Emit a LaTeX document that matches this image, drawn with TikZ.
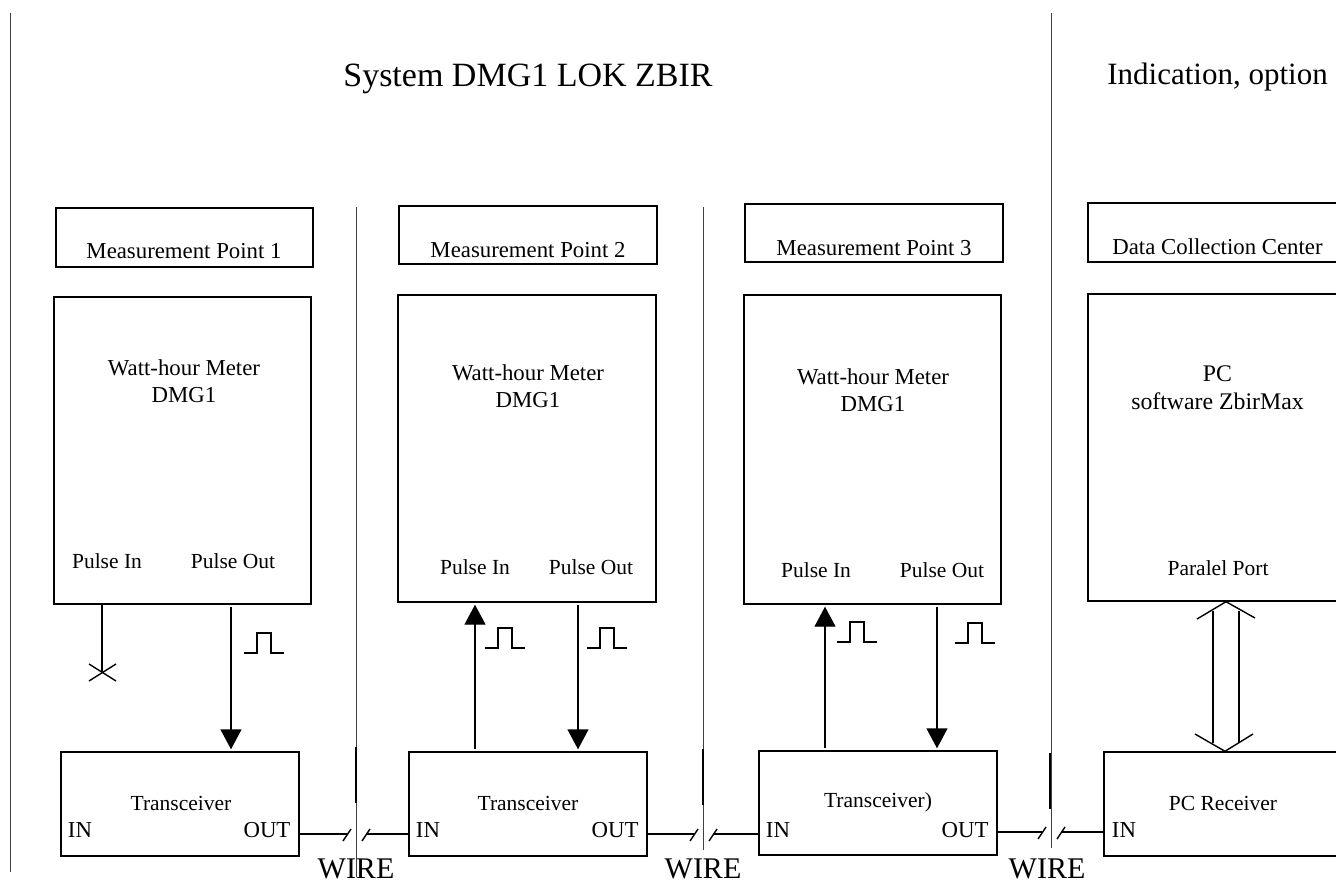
\documentclass[tikz,border=0pt]{standalone}
\usepackage{fontspec}
\setmainfont{Liberation Serif}
\usetikzlibrary{arrows.meta,calc}

\tikzset{
    box/.style={draw, line width=1.4pt, inner sep=0pt},
    lbl/.style={inner sep=0pt, font=\fontsize{21.5}{25}\selectfont, align=center},
    wide/.style={inner sep=0pt, font=\fontsize{22.8}{27.5}\selectfont, align=center},
    head/.style={inner sep=0pt, anchor=base},
    wirelbl/.style={inner sep=0pt, anchor=base, font=\fontsize{30}{32}\selectfont},
    line/.style={line width=1.4pt},
    sig/.style={line width=1.4pt, -{Triangle[length=20pt,width=21pt]}, shorten >=2pt, shorten <=2pt},
    divider/.style={line width=0.7pt, black!75},
    dividerb/.style={line width=1.4pt}
}

\begin{document}
\begin{tikzpicture}[x=1pt,y=-1pt]
    \useasboundingbox (0,0) rectangle (1336,882);
    \clip (0,0) rectangle (1336,882);
    \fill[white] (0,0) rectangle (1336,882);

    % Dividers
    \draw[divider] (10,13) -- (10,872);
    \draw[divider] (356,207) -- (356,877);
    \draw[divider] (703,207) -- (703,850);
    \draw[divider] (1051,13) -- (1051,848);
    \foreach \x/\y in {356/747,703/749,1050/753} {
        \draw[dividerb] (\x,\y) -- (\x,\y+56);
    }

    % Headings
    \node[head, font=\fontsize{34}{36}\selectfont] (sys) at (528,87) {System DMG1 LOK ZBIR};
    \node[head, font=\fontsize{31}{34}\selectfont] (ind) at (1217.5,85) {Indication, option};

    % Name boxes
    \node[box, minimum width=257, minimum height=59] (p1) at (184.5,237.5) {};
    \node[box, minimum width=258, minimum height=58] (p2) at (528,235) {};
    \node[box, minimum width=258, minimum height=58] (p3) at (874,233) {};
    \node[box, minimum width=280, minimum height=59] (p4) at (1228,232.5) {};
    \node[wide] (p1t) at (184,251) {Measurement Point 1};
    \node[wide] (p2t) at (528,250) {Measurement Point 2};
    \node[wide] (p3t) at (874,248) {Measurement Point 3};
    \node[wide] (p4t) at (1217.5,247) {Data Collection Center};

    % Meters
    \node[box, minimum width=257, minimum height=307] (m1) at (182.5,450.5) {};
    \node[box, minimum width=258, minimum height=307] (m2) at (527,448.5) {};
    \node[box, minimum width=257, minimum height=309] (m3) at (872.5,449.5) {};
    \node[box, minimum width=280, minimum height=307] (m4) at (1228,447.5) {};
    \node[wide] (m1t) at (184,381) {Watt-hour Meter\\DMG1};
    \node[wide] (m2t) at (528,386) {Watt-hour Meter\\DMG1};
    \node[wide] (m3t) at (873,390) {Watt-hour Meter\\DMG1};
    \node[inner sep=0pt, font=\fontsize{23.8}{28}\selectfont, align=center] (m4t) at (1217.5,388) {PC\\software ZbirMax};
    \node[lbl] (i1) at (107,561) {Pulse In};
    \node[lbl] (o1) at (233,561) {Pulse Out};
    \node[lbl] (i2) at (475,567) {Pulse In};
    \node[lbl] (o2) at (591,567) {Pulse Out};
    \node[lbl] (i3) at (816,570) {Pulse In};
    \node[lbl] (o3) at (942,570) {Pulse Out};
    \node[lbl] (pp) at (1218,568) {Paralel Port};

    % Transceivers
    \node[box, minimum width=238, minimum height=104] (t1) at (180,804) {};
    \node[box, minimum width=238, minimum height=104] (t2) at (528,804) {};
    \node[box, minimum width=238, minimum height=104] (t3) at (878,803) {};
    \node[box, minimum width=260, minimum height=104] (t4) at (1234,804) {};
    \node[lbl] (t1t) at (181,803) {Transceiver};
    \node[lbl] (t2t) at (528,803) {Transceiver};
    \node[lbl] (t3t) at (878,802) {Transceiver)};
    \node[lbl] (t4t) at (1223,803) {PC Receiver};
    \node[wide] (in1) at (80,830) {IN};
    \node[wide] (out1) at (267,830) {OUT};
    \node[wide] (in2) at (428,830) {IN};
    \node[wide] (out2) at (615,830) {OUT};
    \node[wide] (in3) at (778,830) {IN};
    \node[wide] (out3) at (965,830) {OUT};
    \node[wide] (in4) at (1124,830) {IN};

    % Pulse signals
    \coordinate (s1) at (231,0);
    \coordinate (r2) at (475,0);
    \coordinate (s2) at (578,0);
    \coordinate (r3) at (825,0);
    \coordinate (s3) at (937,0);
    \draw[sig] (m1.south -| s1) -- (t1.north -| s1);
    \draw[sig] (t2.north -| r2) -- (m2.south -| r2);
    \draw[sig] (m2.south -| s2) -- (t2.north -| s2);
    \draw[sig] (t3.north -| r3) -- (m3.south -| r3);
    \draw[sig] (m3.south -| s3) -- (t3.north -| s3);
    \foreach \x/\y in {244/653,485/648,587/648,837/642,955/643} {
        \draw[line] (\x,\y) -- ++(13,0) -- ++(0,-20) -- ++(14,0) -- ++(0,20) -- ++(13,0);
    }

    % Unused input
    \coordinate (x1) at (102,672);
    \draw[line] (m1.south -| x1) -- (x1);
    \draw[line] ($(x1)+(-13,-8)$) -- ($(x1)+(14,9)$);
    \draw[line] ($(x1)+(-13,9)$) -- ($(x1)+(14,-8)$);

    % Wires
    \coordinate (w1) at (356,834);
    \coordinate (w2) at (703,834);
    \coordinate (w3) at (1051,832);
    \foreach \w/\a/\b in {w1/t1/t2,w2/t2/t3,w3/t3/t4} {
        \draw[line] (\a.east |- \w) -- ($(\w)+(-9,0)$);
        \draw[line] ($(\w)+(10,0)$) -- (\b.west |- \w);
        \draw[line] ($(\w)+(-13,7)$) -- ++(8,-12);
        \draw[line] ($(\w)+(6,7)$) -- ++(8,-12);
    }
    \node[wirelbl] (l1) at (356,878) {WIRE};
    \node[wirelbl] (l2) at (703,878) {WIRE};
    \node[wirelbl] (l3) at (1047,878) {WIRE};

    % Parallel link
    \draw[line] (m4.south -| 1213,0) ++(0,9) -- (1213,743);
    \draw[line] (m4.south -| 1239,0) ++(0,9) -- (1239,743);
    \draw[line] (1197,619) -- (m4.south -| 1226,0) -- (1255,618);
    \draw[line] (1195,734) -- (t4.north -| 1225,0) -- (1253,734);
\end{tikzpicture}
\end{document}
